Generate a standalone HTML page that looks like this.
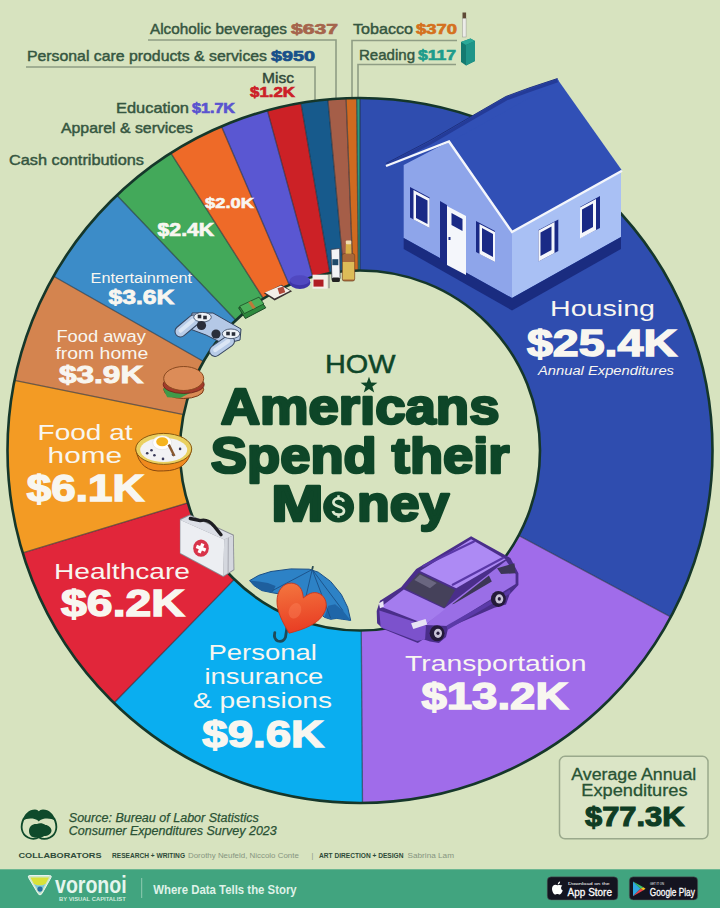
<!DOCTYPE html>
<html><head><meta charset="utf-8">
<style>
html,body{margin:0;padding:0;}
body{width:720px;height:908px;overflow:hidden;background:#d7e3bf;font-family:"Liberation Sans",sans-serif;position:relative;}
svg{position:absolute;left:0;top:0;}
</style></head>
<body>
<svg width="720" height="908" viewBox="0 0 720 908" font-family="'Liberation Sans', sans-serif">
<!-- leader lines -->
<g fill="none" stroke="#8f9d84" stroke-width="1.6">
<polyline points="148,40 336,40 336,100"/>
<polyline points="26,67 315,67 315,100"/>
<polyline points="457,40.5 352,40.5 352,100"/>
<polyline points="456,64.5 358,64.5 358,100"/>
</g>
<!-- donut -->
<g>
<path d="M360.00,98.00 A352.5,352.5 0 0 1 670.72,616.96 L518.67,535.50 A180.0,180.0 0 0 0 360.00,270.50 Z" fill="#2f4daf"/>
<path d="M670.72,616.96 A352.5,352.5 0 0 1 362.49,802.99 L361.27,630.50 A180.0,180.0 0 0 0 518.67,535.50 Z" fill="#a06cea"/>
<path d="M362.49,802.99 A352.5,352.5 0 0 1 113.98,702.95 L234.37,579.41 A180.0,180.0 0 0 0 361.27,630.50 Z" fill="#0aaef0"/>
<path d="M113.98,702.95 A352.5,352.5 0 0 1 22.71,552.92 L187.77,502.80 A180.0,180.0 0 0 0 234.37,579.41 Z" fill="#e1263a"/>
<path d="M22.71,552.92 A352.5,352.5 0 0 1 14.56,380.28 L183.61,414.64 A180.0,180.0 0 0 0 187.77,502.80 Z" fill="#f39b24"/>
<path d="M14.56,380.28 A352.5,352.5 0 0 1 53.61,276.20 L203.55,361.49 A180.0,180.0 0 0 0 183.61,414.64 Z" fill="#d4844f"/>
<path d="M53.61,276.20 A352.5,352.5 0 0 1 116.84,195.29 L235.84,320.18 A180.0,180.0 0 0 0 203.55,361.49 Z" fill="#3c8cc8"/>
<path d="M116.84,195.29 A352.5,352.5 0 0 1 170.87,153.03 L263.42,298.60 A180.0,180.0 0 0 0 235.84,320.18 Z" fill="#43a95a"/>
<path d="M170.87,153.03 A352.5,352.5 0 0 1 221.46,126.37 L289.26,284.98 A180.0,180.0 0 0 0 263.42,298.60 Z" fill="#ee6a28"/>
<path d="M221.46,126.37 A352.5,352.5 0 0 1 267.38,110.39 L312.71,276.82 A180.0,180.0 0 0 0 289.26,284.98 Z" fill="#5a57d2"/>
<path d="M267.38,110.39 A352.5,352.5 0 0 1 300.91,102.99 L329.83,273.05 A180.0,180.0 0 0 0 312.71,276.82 Z" fill="#cc2126"/>
<path d="M300.91,102.99 A352.5,352.5 0 0 1 327.87,99.47 L343.59,271.25 A180.0,180.0 0 0 0 329.83,273.05 Z" fill="#175a8c"/>
<path d="M327.87,99.47 A352.5,352.5 0 0 1 346.06,98.28 L352.88,270.64 A180.0,180.0 0 0 0 343.59,271.25 Z" fill="#a55e48"/>
<path d="M346.06,98.28 A352.5,352.5 0 0 1 356.65,98.02 L358.29,270.51 A180.0,180.0 0 0 0 352.88,270.64 Z" fill="#d06a20"/>
<path d="M356.65,98.02 A352.5,352.5 0 0 1 360.00,98.00 L360.00,270.50 A180.0,180.0 0 0 0 358.29,270.51 Z" fill="#2f9a7e"/>
</g>
<g stroke="#1e2a3a" stroke-width="1.3" stroke-opacity="0.6">
<line x1="360.00" y1="270.50" x2="360.00" y2="98.00"/>
<line x1="518.67" y1="535.50" x2="670.72" y2="616.96"/>
<line x1="361.27" y1="630.50" x2="362.49" y2="802.99"/>
<line x1="234.37" y1="579.41" x2="113.98" y2="702.95"/>
<line x1="187.77" y1="502.80" x2="22.71" y2="552.92"/>
<line x1="183.61" y1="414.64" x2="14.56" y2="380.28"/>
<line x1="203.55" y1="361.49" x2="53.61" y2="276.20"/>
<line x1="235.84" y1="320.18" x2="116.84" y2="195.29"/>
<line x1="263.42" y1="298.60" x2="170.87" y2="153.03"/>
<line x1="289.26" y1="284.98" x2="221.46" y2="126.37"/>
<line x1="312.71" y1="276.82" x2="267.38" y2="110.39"/>
<line x1="329.83" y1="273.05" x2="300.91" y2="102.99"/>
<line x1="343.59" y1="271.25" x2="327.87" y2="99.47"/>
<line x1="352.88" y1="270.64" x2="346.06" y2="98.28"/>
<line x1="358.29" y1="270.51" x2="356.65" y2="98.02"/>
</g>
<circle cx="360.0" cy="450.5" r="352.5" fill="none" stroke="#15372a" stroke-width="2.6"/>
<circle cx="360.0" cy="450.5" r="180.0" fill="none" stroke="#15372a" stroke-width="2.6"/>

<!-- house -->
<g id="house">
<polygon points="403.7,165 449,141.5 512,232 512,298 403.7,238" fill="#8ea5ea"/>
<polygon points="512,232 621,171.5 621,237 512,298" fill="#a9c0f4"/>
<polygon points="403.7,238 512,298 512,310.5 403.7,249" fill="#1a2c80"/>
<polygon points="512,298 621,237 621,249 512,310.5" fill="#1a2c80"/>
<polygon points="449,141 558,80 622,170.5 512,232" fill="#3150b6"/>
<polygon points="386,163.5 430,140.5 473.7,115 505.8,96.5 528.8,88 557.5,78.5 559,81.5 449,142.5 388,167.5" fill="#3150b6"/>
<polyline points="387.5,165.2 431,142.6 474.5,117.2 506.5,98.8 529.5,90.4 557.5,80.8" fill="none" stroke="#243b98" stroke-width="3.2"/>
<polyline points="386,163.5 430,140.5 473.7,115 505.8,96.5 528.8,88 557.5,78.5" fill="none" stroke="#1c2c78" stroke-width="0.9"/>
<polyline points="386,166 449,141.5 512,232 622,170.8" fill="none" stroke="#f4f6fb" stroke-width="2.4" stroke-linejoin="miter"/>
<!-- front wall windows -->
<polygon points="410,187 429.6,197.5 429.6,228 410,217.5" fill="#1a2a86"/>
<polygon points="413.5,190 429.6,198.5 429.6,228 413.5,219.5" fill="#f4f6fb"/>
<polygon points="416,194.5 427.5,200.5 427.5,224 416,218" fill="#1a2a86"/>
<polygon points="440,201 447,205 447,265 440,261" fill="#1a2a86"/>
<polygon points="447,206 466,216 466,275 447,265" fill="#f4f6fb"/>
<polygon points="451.5,213 462.5,219 462.5,231 451.5,225" fill="#1a2a86"/>
<rect x="448.5" y="237" width="2" height="3" fill="#1a2a86"/>
<polygon points="476,221 495,231 495,262 476,252" fill="#1a2a86"/>
<polygon points="479.5,224 495,232 495,262 479.5,254" fill="#f4f6fb"/>
<polygon points="482,228 493,234 493,257 482,251" fill="#1a2a86"/>
<!-- side wall windows -->
<polygon points="538.5,230 558.3,219.5 558.3,251 538.5,261.5" fill="#1a2a86"/>
<polygon points="538.5,230.5 554.5,222 554.5,253 538.5,261.5" fill="#f4f6fb"/>
<polygon points="540.5,232.5 551.5,226.5 551.5,250 540.5,256" fill="#1a2a86"/>
<polygon points="580,207 600,196 600,228 580,238" fill="#1a2a86"/>
<polygon points="580,207.5 596,199 596,230 580,238.5" fill="#f4f6fb"/>
<polygon points="582,209.5 593,203.5 593,227 582,233" fill="#1a2a86"/>
</g>

<g id="icons"><polygon points="249.6,580.6 258.8,575.3 271.0,571.5 290.8,568.9 309.2,569.2 318.3,572.2 330.6,581.4 341.3,594.4 347.7,607.4 350.7,620.4 342.8,619.3 336.7,618.4 330.6,619.3 324.4,617.3 316.8,610.4 309.2,603.5 298.5,598.2 284.7,594.8 272.5,592.8 261.8,590.6 254.2,585.7" fill="#2d82c6" stroke="#1b4f86" stroke-width="1" stroke-linejoin="round"/>
<polygon points="249.6,580.6 254.2,585.7 261.8,590.6 272.5,592.8 275.6,586.0 267.9,582.9 258.8,581.4" fill="#1e5f9e"/>
<polygon points="324.4,617.3 330.6,619.3 336.7,618.4 342.8,619.3 350.7,620.4 342.8,610.4 335.1,604.3 328.3,605.8" fill="#1f66a8"/>
<line x1="312.2" y1="569.5" x2="306.1" y2="595.9" stroke="#1b4f86" stroke-width="0.9"/>
<line x1="312.2" y1="569.5" x2="330.6" y2="618.1" stroke="#1b4f86" stroke-width="0.9"/>
<line x1="312.2" y1="569.5" x2="272.5" y2="590.6" stroke="#1b4f86" stroke-width="0.9"/>
<line x1="312.2" y1="569.5" x2="342.8" y2="610.4" stroke="#1b4f86" stroke-width="0.9"/>
<line x1="312.2" y1="569.5" x2="313.0" y2="566.1" stroke="#2a4a50" stroke-width="1.8"/>
<path d="M287.0,627.2 L285.5,637.2 Q283.2,642.5 277.8,641.0 Q273.3,638.7 274.8,632.6" fill="none" stroke="#1f4a58" stroke-width="2.8" stroke-linecap="round"/>
<defs><linearGradient id="hg" x1="0" y1="0" x2="0.6" y2="1"><stop offset="0" stop-color="#f47a40"/><stop offset="1" stop-color="#e83a22"/></linearGradient></defs>
<g transform="translate(298.5,610) rotate(22)"><path d="M0,25 C-12,16 -25,5 -25,-9 C-25,-21 -13,-27 -5,-20 C-3,-18 -1,-15 0,-13 C1,-15 3,-18 5,-20 C13,-27 25,-21 25,-9 C25,5 12,16 0,25 Z" fill="url(#hg)" stroke="#c8341a" stroke-width="0.8"/><ellipse cx="-3" cy="2" rx="6" ry="8" fill="#ff8a60" opacity="0.35"/></g>
<polygon points="179.9,519.1 189.8,514.4 233.8,534.7 234.4,570.1 223.3,577.1 179.9,553.8" fill="#8a8c94"/>
<polygon points="180.4,520.1 224.2,539.4 223.3,576.0 180.4,553.1" fill="#eceef2"/>
<polygon points="224.2,539.4 233.0,535.4 233.5,569.6 223.3,576.0" fill="#d4d7de"/>
<line x1="228.3" y1="537.5" x2="228.1" y2="573.2" stroke="#9a9ca6" stroke-width="0.8"/>
<polygon points="180.4,520.1 189.8,515.4 233.0,535.4 224.2,539.4" fill="#dcdfe6"/>
<path d="M190.3,518.5 L200.2,520.6 Q207.5,518.5 213.8,525.8 L221.0,534.7" fill="none" stroke="#1e1e22" stroke-width="3.4" stroke-linecap="round" stroke-linejoin="round"/>
<ellipse cx="201.0" cy="548.2" rx="7.8" ry="8.6" fill="#d8344a"/>
<rect x="199.3" y="543.2" width="3.4" height="10" fill="#fff" transform="rotate(22 201.0 548.2)"/>
<rect x="196.0" y="546.5" width="10" height="3.4" fill="#fff" transform="rotate(22 201.0 548.2)"/>
<path d="M135.7,448.9 Q139.7,472.9 163.7,470.9 Q187.7,470.9 191.7,448.9 Z" fill="#f08a1e" stroke="#8a4a10" stroke-width="1"/>
<ellipse cx="163.7" cy="448.9" rx="28" ry="15.5" fill="#ead060" stroke="#8a5a10" stroke-width="1"/>
<ellipse cx="163.7" cy="449.9" rx="23.5" ry="12" fill="#f2f2f4"/>
<ellipse cx="162.2" cy="442.7" rx="9.5" ry="7" fill="#ffffff" stroke="#ddd" stroke-width="0.6"/>
<ellipse cx="162.2" cy="441.7" rx="6" ry="4.5" fill="#f5b41e"/>
<circle cx="147.2" cy="453.2" r="1.3" fill="#3a3a5a"/>
<circle cx="154.4" cy="455.3" r="1.3" fill="#3a3a5a"/>
<circle cx="163.0" cy="458.9" r="1.3" fill="#3a3a5a"/>
<circle cx="173.0" cy="454.6" r="1.3" fill="#3a3a5a"/>
<circle cx="180.1" cy="448.9" r="1.3" fill="#3a3a5a"/>
<circle cx="151.5" cy="450.3" r="1.3" fill="#3a3a5a"/>
<line x1="168.7" y1="444.6" x2="174.4" y2="456.0" stroke="#8a5a30" stroke-width="2.5"/>
<ellipse cx="183.7" cy="389.5" rx="20" ry="9" fill="#d98a55" stroke="#7a3a18" stroke-width="1"/>
<polygon points="163.0,388.7 173.0,385.1 190.2,393.0 180.1,398.0 167.2,397.3" fill="#3e9a48"/>
<ellipse cx="183.7" cy="384.5" rx="20.5" ry="9" fill="#a23a2a" stroke="#6a2016" stroke-width="0.8"/>
<ellipse cx="183.7" cy="378.5" rx="20" ry="12" fill="#dc8c58" stroke="#8a4a20" stroke-width="1"/>
<g stroke="#34445e" stroke-width="1">
<polygon points="192,313 213,313 241,329 240,340 224,344 206,335 190,329" fill="#b4c8e6"/>
<rect x="173" y="320.5" width="28" height="11" rx="5.5" fill="#b8cce8" transform="rotate(-40 187 326)"/>
<rect x="208" y="340.5" width="28" height="11" rx="5.5" fill="#b8cce8" transform="rotate(-35 222 346)"/>
</g>
<rect x="177" y="323.5" width="20" height="4" rx="2" fill="#dbe6f5" transform="rotate(-40 187 326)"/>
<rect x="212" y="343.5" width="20" height="4" rx="2" fill="#dbe6f5" transform="rotate(-35 222 346)"/>
<ellipse cx="202.5" cy="317.2" rx="8.8" ry="4.8" fill="#eef2f8" stroke="#34445e" stroke-width="0.8"/>
<ellipse cx="231" cy="333.8" rx="8.8" ry="4.8" fill="#eef2f8" stroke="#34445e" stroke-width="0.8"/>
<rect x="197.7" y="314.7" width="3.6" height="3.6" fill="#2a2e3a"/>
<rect x="203.2" y="315.7" width="3.6" height="3.6" fill="#2a2e3a"/>
<rect x="226.2" y="331.7" width="3.6" height="3.6" fill="#2a2e3a"/>
<rect x="231.7" y="332.2" width="3.6" height="3.6" fill="#2a2e3a"/>
<circle cx="201.5" cy="325.5" r="4.6" fill="#2a2e3a"/>
<circle cx="216" cy="334" r="4.6" fill="#2a2e3a"/>
<polygon points="238.6,307.8 259.0,298.1 265.8,307.8 245.4,318.5" fill="#2f8a3e" stroke="#1c4a26" stroke-width="1"/>
<polygon points="239.6,306.2 259.0,297.1 263.9,303.9 244.4,313.6" fill="#4cb05a" stroke="#1c4a26" stroke-width="0.8"/>
<polygon points="248.3,302.3 251.2,301.0 255.7,307.8 252.8,309.1" fill="#c0783a"/>
<polygon points="263.9,293.2 281.4,284.8 292.1,291.2 274.6,300.4" fill="#3a3030"/>
<polygon points="264.9,292.6 281.0,285.4 290.1,290.7 274.6,298.4" fill="#f3efe8"/>
<polygon points="277.5,288.3 283.3,286.4 285.3,292.2 279.4,294.2" fill="#b04a3a"/>
<ellipse cx="299.9" cy="282.5" rx="10.5" ry="6.5" fill="#3e35a8"/>
<ellipse cx="299.9" cy="280.2" rx="10" ry="5" fill="#5048c0"/>
<rect x="312.5" y="274.7" width="15" height="14" fill="#f3efe8"/>
<rect x="313.5" y="279.6" width="10" height="7" fill="#b01e24"/>
<line x1="329.0" y1="274.7" x2="329.0" y2="288.3" stroke="#8a8a8a" stroke-width="1.2"/>
<polygon points="331.0,249.4 339.7,248.5 340.1,278.6 331.9,279.6" fill="#f4f4f6" stroke="#3a3a4a" stroke-width="0.8"/>
<rect x="332.3" y="259.2" width="6" height="6" fill="#1f4a6a"/>
<rect x="331.9" y="277.6" width="8" height="4.5" rx="1.5" fill="#222"/>
<rect x="342.3" y="253.5" width="12.4" height="27.6" rx="2.2" fill="#a8683a" stroke="#6a3e1c" stroke-width="0.6"/>
<rect x="342.8" y="262" width="11.4" height="17.5" fill="#dcbc58"/>
<path d="M345.6,253.8 L345.8,244 L351.3,244 L351.5,253.8 Z" fill="#d8b048"/>
<rect x="345.8" y="240.6" width="5.5" height="3.6" rx="1" fill="#f0dcb0"/></g>
<g id="car"><polygon points="376.7,611.1 380.0,600.7 401.1,587.3 416.2,568.9 471.1,536.2 510.4,558.0 518.4,573.3 518.4,585.1 509.6,594.4 506.0,604.4 494.4,607.8 448.2,627.8 446.0,637.1 438.9,642.9 430.0,641.6 423.3,639.3 417.8,642.9 383.3,628.9 377.1,623.3" fill="#4a2e8a"/>
<polygon points="444.4,608.2 506.0,560.7 515.6,574.0 515.6,584.0 447.8,626.0 425.6,625.1" fill="#9a6ee6"/>
<polygon points="379.3,610.4 426.0,625.6 425.1,639.3 417.1,641.1 380.7,627.3" fill="#7c52cc"/>
<polygon points="381.1,606.7 403.8,589.6 445.1,609.1 426.0,624.4" fill="#a47cee"/>
<polygon points="420.0,571.1 471.1,539.3 505.6,559.3 456.2,588.2" fill="#ad8af4"/>
<polygon points="405.1,588.2 418.9,572.7 455.1,590.0 444.7,607.8" fill="#45415a"/>
<polygon points="414.4,580.0 420.0,574.4 436.7,582.9 430.0,588.2" fill="#6a6680"/>
<polygon points="451.8,604.4 488.9,575.6 491.8,581.6 454.9,603.3" fill="#3c3656"/>
<polygon points="497.1,568.2 514.4,563.3 515.6,573.3 501.1,574.0" fill="#3c3656"/>
<polygon points="446.7,625.6 510.0,589.6 510.4,593.3 447.3,630.0" fill="#5b3aa8"/>
<line x1="423.3" y1="566.0" x2="474.0" y2="541.6" stroke="#5a38a8" stroke-width="2.2" stroke-linecap="round"/>
<line x1="452.7" y1="584.7" x2="502.9" y2="558.0" stroke="#5a38a8" stroke-width="2.2" stroke-linecap="round"/>
<ellipse cx="437.1" cy="633.3" rx="7.5" ry="8" fill="#241a3a"/>
<ellipse cx="438.0" cy="633.3" rx="4" ry="4.6" fill="#c9c4d6"/>
<ellipse cx="438.0" cy="633.3" rx="1.6" ry="1.8" fill="#241a3a"/>
<ellipse cx="498.4" cy="598.9" rx="7.5" ry="8" fill="#241a3a"/>
<ellipse cx="499.3" cy="598.9" rx="4" ry="4.6" fill="#c9c4d6"/>
<ellipse cx="499.3" cy="598.9" rx="1.6" ry="1.8" fill="#241a3a"/>
<polygon points="411.1,623.3 425.6,618.9 427.3,624.4 413.3,628.9" fill="#e8e4f4"/>
<polygon points="378.9,603.3 383.3,600.7 383.8,606.7 380.0,608.2" fill="#e8e4f4"/></g>
<g id="tob">
<rect x="462.5" y="12.5" width="3.6" height="6" fill="#5e4a36"/>
<rect x="462.5" y="18.5" width="3.6" height="18.5" fill="#ecece8" stroke="#9a9a92" stroke-width="0.5"/>
<polygon points="461,42 470.5,38.5 475,41 475,61 466,65.5 461,62" fill="#147a70"/>
<polygon points="461,42 470.5,38.5 475,41 466,45" fill="#2aa898"/>
<polygon points="466,45 475,41 475,61 466,65.5" fill="#1f9488"/>
</g>
<!-- top labels -->
<g font-size="15" fill="#355640" stroke="#355640" stroke-width="0.45">
<text x="150" y="34" textLength="137" lengthAdjust="spacingAndGlyphs">Alcoholic beverages</text>
<text x="291" y="34" font-weight="bold" stroke="#a5654c" stroke-width="0.7" fill="#a5654c" textLength="47" lengthAdjust="spacingAndGlyphs">$637</text>
<text x="353" y="34" textLength="60" lengthAdjust="spacingAndGlyphs">Tobacco</text>
<text x="416" y="34" font-weight="bold" stroke="#d4711e" stroke-width="0.7" fill="#d4711e" textLength="41" lengthAdjust="spacingAndGlyphs">$370</text>
<text x="27" y="61" textLength="240" lengthAdjust="spacingAndGlyphs">Personal care products &amp; services</text>
<text x="271" y="61" font-weight="bold" stroke="#18508a" stroke-width="0.7" fill="#18508a" textLength="44" lengthAdjust="spacingAndGlyphs">$950</text>
<text x="359" y="60" textLength="56" lengthAdjust="spacingAndGlyphs">Reading</text>
<text x="418" y="60" font-weight="bold" stroke="#1e9c8c" stroke-width="0.7" fill="#1e9c8c" textLength="38" lengthAdjust="spacingAndGlyphs">$117</text>
<text x="262" y="83" fill="#2e3a36" textLength="32" lengthAdjust="spacingAndGlyphs">Misc</text>
<text x="250" y="97" font-weight="bold" stroke="#cc2128" stroke-width="0.7" fill="#cc2128" textLength="45" lengthAdjust="spacingAndGlyphs">$1.2K</text>
<text x="116" y="113" textLength="73" lengthAdjust="spacingAndGlyphs">Education</text>
<text x="192" y="113" font-weight="bold" stroke="#5a54cf" stroke-width="0.7" fill="#5a54cf" textLength="43" lengthAdjust="spacingAndGlyphs">$1.7K</text>
<text x="61" y="133" textLength="132" lengthAdjust="spacingAndGlyphs">Apparel &amp; services</text>
<text x="9" y="165" textLength="135" lengthAdjust="spacingAndGlyphs">Cash contributions</text>
</g>

<!-- segment labels -->
<g fill="#f8f6f0" stroke="#f8f6f0" stroke-width="0" text-anchor="start">
<text x="550" y="316.4" font-size="22" textLength="105" lengthAdjust="spacingAndGlyphs">Housing</text>
<text x="527" y="355.6" font-size="37.4" font-weight="bold" stroke-width="1.44" textLength="150" lengthAdjust="spacingAndGlyphs">$25.4K</text>
<text x="538" y="374.5" font-size="12" font-style="italic" textLength="136" lengthAdjust="spacingAndGlyphs">Annual Expenditures</text>

<text x="405" y="671" font-size="22" textLength="181.5" lengthAdjust="spacingAndGlyphs">Transportation</text>
<text x="421.4" y="709.4" font-size="37.4" font-weight="bold" stroke-width="1.44" textLength="147" lengthAdjust="spacingAndGlyphs">$13.2K</text>

<text x="208.4" y="660.2" font-size="22" textLength="108.5" lengthAdjust="spacingAndGlyphs">Personal</text>
<text x="204.4" y="684.3" font-size="22" textLength="119" lengthAdjust="spacingAndGlyphs">insurance</text>
<text x="193" y="708.3" font-size="22" textLength="139" lengthAdjust="spacingAndGlyphs">&amp; pensions</text>
<text x="202.3" y="747.2" font-size="36.4" font-weight="bold" stroke-width="1.4" textLength="121.6" lengthAdjust="spacingAndGlyphs">$9.6K</text>

<text x="54" y="578.6" font-size="22" textLength="136" lengthAdjust="spacingAndGlyphs">Healthcare</text>
<text x="61.1" y="615.5" font-size="36.4" font-weight="bold" stroke-width="1.4" textLength="123.7" lengthAdjust="spacingAndGlyphs">$6.2K</text>

<text x="37.6" y="439.6" font-size="22" textLength="95" lengthAdjust="spacingAndGlyphs">Food at</text>
<text x="47.6" y="462.9" font-size="22" textLength="74.5" lengthAdjust="spacingAndGlyphs">home</text>
<text x="26.8" y="501.4" font-size="36.4" font-weight="bold" stroke-width="1.4" textLength="117.6" lengthAdjust="spacingAndGlyphs">$6.1K</text>

<text x="56.4" y="342.2" font-size="16" textLength="89.5" lengthAdjust="spacingAndGlyphs">Food away</text>
<text x="55.4" y="358.9" font-size="16" textLength="92.8" lengthAdjust="spacingAndGlyphs">from home</text>
<text x="58.9" y="383.3" font-size="24" font-weight="bold" stroke-width="0.96" textLength="84.4" lengthAdjust="spacingAndGlyphs">$3.9K</text>

<text x="90.6" y="283.3" font-size="14" textLength="101.5" lengthAdjust="spacingAndGlyphs">Entertainment</text>
<text x="108.4" y="304" font-size="20.5" font-weight="bold" stroke-width="0.82" textLength="66" lengthAdjust="spacingAndGlyphs">$3.6K</text>

<text x="157.5" y="235.8" font-size="18" font-weight="bold" stroke-width="0.72" textLength="56.7" lengthAdjust="spacingAndGlyphs">$2.4K</text>
<text x="205" y="207.5" font-size="15.5" font-weight="bold" stroke-width="0.62" textLength="49" lengthAdjust="spacingAndGlyphs">$2.0K</text>
</g>

<!-- title -->
<g fill="#0e4628">
<text x="325" y="373" font-size="26" stroke="#0e4628" stroke-width="0.5" textLength="70.5" lengthAdjust="spacingAndGlyphs">HOW</text>
<g stroke="#0e4628" stroke-width="2.6" stroke-linejoin="round">
<text x="220.7" y="424" font-size="50" font-weight="bold" textLength="278.8" lengthAdjust="spacingAndGlyphs">Amerıcans</text>
<text x="210.8" y="472.5" font-size="50" font-weight="bold" textLength="298.7" lengthAdjust="spacingAndGlyphs">Spend their</text>
<text x="271.3" y="520.7" font-size="50" font-weight="bold" textLength="52.3" lengthAdjust="spacingAndGlyphs">M</text>
<text x="357" y="520.7" font-size="50" font-weight="bold" textLength="92.3" lengthAdjust="spacingAndGlyphs">ney</text>
</g>
<circle cx="338.6" cy="507" r="15.5"/>
<g fill="none" stroke="#dcead0" stroke-width="2.7"><path d="M343.6,501.8 C343.2,499.4 341,498.4 338.5,498.4 C335.6,498.4 333.4,500 333.4,502.3 C333.4,505 336,505.8 338.5,506.5 C341.5,507.3 344,508.3 344,511 C344,513.5 341.5,514.7 338.5,514.7 C335.8,514.7 333.4,513.7 332.9,511.1"/><path d="M338.5,495.2 V498.6 M338.5,514.5 V517.8" stroke-width="2.5"/></g>
<polygon points="369.0,376.7 371.1,382.6 377.4,382.8 372.4,386.6 374.2,392.6 369.0,389.1 363.8,392.6 365.6,386.6 360.6,382.8 366.9,382.6"/>
</g>

<!-- avg box -->
<rect x="559.5" y="756.3" width="148.5" height="82.5" rx="5.5" fill="#dbe5c6" stroke="#9aa98c" stroke-width="1.5"/>
<g fill="#285334" stroke="#285334" stroke-width="0.3" font-size="16">
<text x="571.3" y="780" textLength="125" lengthAdjust="spacingAndGlyphs">Average Annual</text>
<text x="581.3" y="796.3" textLength="106.2" lengthAdjust="spacingAndGlyphs">Expenditures</text>
<text x="585" y="826.3" font-size="27.5" font-weight="bold" fill="#0f3d24" stroke="#0f3d24" stroke-width="1.1" textLength="99.5" lengthAdjust="spacingAndGlyphs">$77.3K</text>
</g>

<!-- source -->
<g>
<path d="M24,818 C20,826 21,834 28,837.5 C32,839.5 36,839 38.8,837.2 C41.5,839 46,839.5 50,837.5 C57,834 58,826 54,818" fill="none" stroke="#0f4a2b" stroke-width="1.8"/>
<path d="M22.5,821 C24,814 29,809.5 35,809.5 C37,809.5 38,810.5 38.8,811.2 C39.5,810.5 41,809.5 43,809.5 C49,809.5 54,814 55.5,821 C52,818.5 47,818 43,819 C41,819.5 39.5,820.5 38.8,821.6 C38,820.5 36.5,819.5 34.5,819 C30.5,818 26,818.5 22.5,821 Z" fill="#0f4a2b"/>
<path d="M29,831 C29,826 33,823.5 37,824 C39,823 43,823 45.5,825 C48,825 51.5,827.5 51.5,830.5 C51.5,834 48,836 44,836 C42,837.5 40,838 38.8,837 C36,838.5 32,837.5 30.5,835.5 C29.5,834.3 29,832.8 29,831 Z" fill="#0f4a2b"/>
<text x="68.8" y="821.7" font-size="12.5" font-style="italic" fill="#2a5234" stroke="#2a5234" stroke-width="0.25" textLength="190" lengthAdjust="spacingAndGlyphs">Source: Bureau of Labor Statistics</text>
<text x="68.8" y="835" font-size="12.5" font-style="italic" fill="#2a5234" stroke="#2a5234" stroke-width="0.25" textLength="208" lengthAdjust="spacingAndGlyphs">Consumer Expenditures Survey 2023</text>
<text x="18.5" y="858" font-size="8" font-weight="bold" fill="#2d4a38" textLength="83" lengthAdjust="spacingAndGlyphs">COLLABORATORS</text>
<text x="112" y="858" font-size="6.5" font-weight="bold" fill="#2d4a38" textLength="73" lengthAdjust="spacingAndGlyphs">RESEARCH + WRITING</text>
<text x="188" y="858" font-size="7" fill="#869580" textLength="110.8" lengthAdjust="spacingAndGlyphs">Dorothy Neufeld, Niccolo Conte</text>
<text x="311.5" y="858" font-size="7" fill="#869580">|</text>
<text x="319" y="858" font-size="6.8" font-weight="bold" fill="#2d4a38" textLength="84.5" lengthAdjust="spacingAndGlyphs">ART DIRECTION + DESIGN</text>
<text x="407.5" y="858" font-size="7" fill="#869580" textLength="46.5" lengthAdjust="spacingAndGlyphs">Sabrina Lam</text>
</g>

<!-- footer -->
<rect x="0" y="869.3" width="720" height="38.7" fill="#41a47f"/>
<text x="55" y="893" font-size="24" font-weight="bold" fill="#e6f6ee" textLength="71.7" lengthAdjust="spacingAndGlyphs">voronoi</text>
<path d="M28.5,877.5 Q27.5,875.5 30,875.5 L49.5,875.5 Q52,875.5 51,877.5 L42,893.5 Q40,896.5 38,893.5 Z" fill="#cfe8c8" stroke="#e8f4f0" stroke-width="1"/>
<path d="M30.5,877.5 L49,877.5 L45.5,884 Q40,887 34,884 Z" fill="#d8e23a"/>
<path d="M34,884 Q40,887 45.5,884 L41,892 Q40,893.5 39,892 Z" fill="#7ac8d8"/>
<circle cx="40" cy="889" r="2.6" fill="#2a6fa0"/>
<text x="59" y="901.3" font-size="4.5" font-weight="bold" fill="#cfeadc" textLength="66.8" lengthAdjust="spacingAndGlyphs">BY VISUAL CAPITALIST</text>
<line x1="141.7" y1="878" x2="141.7" y2="898" stroke="#8fcab0" stroke-width="1"/>
<text x="153.3" y="893.5" font-size="13" font-weight="bold" fill="#dff2e8" textLength="143.4" lengthAdjust="spacingAndGlyphs">Where Data Tells the Story</text>
<rect x="547.2" y="876.8" width="70.7" height="23.2" rx="4" fill="#141420" stroke="#5a6a66" stroke-width="0.5"/>
<rect x="629.3" y="876.8" width="68.4" height="23.2" rx="4" fill="#141420" stroke="#5a6a66" stroke-width="0.5"/>
<path d="M557.8,885.3 C559.5,884.6 561,885 562.3,885.6 C560.5,886.8 560.6,889.6 562.7,890.6 C562.2,892.2 561,894.6 559.7,894.6 C558.7,894.6 558.4,894 557.5,894 C556.5,894 556,894.6 555.2,894.6 C553.8,894.6 552,891.4 552,888.8 C552,886.2 553.8,884.8 555.4,884.8 C556.3,884.8 557,885.3 557.8,885.3 Z M557.8,884.4 C557.6,882.9 558.8,881.6 560.1,881.4 C560.3,882.9 559,884.3 557.8,884.4 Z" fill="#fff"/>
<text x="567.9" y="884.6" font-size="4" fill="#fff" textLength="41.8" lengthAdjust="spacingAndGlyphs">Download on the</text>
<text x="567.6" y="895.6" font-size="11.5" fill="#fff" stroke="#fff" stroke-width="0.3" textLength="44.4" lengthAdjust="spacingAndGlyphs">App Store</text>
<path d="M633,881.5 L640.5,888.8 L633,896.3 Z" fill="#2fa8e0"/>
<path d="M633,881.5 L643.5,887.3 L640.5,888.8 Z" fill="#3cc26a"/>
<path d="M633,896.3 L643.5,890.3 L640.5,888.8 Z" fill="#e8424a"/>
<path d="M643.5,887.3 L645.5,888.8 L643.5,890.3 L640.5,888.8 Z" fill="#f8c020"/>
<text x="650" y="884.6" font-size="4" fill="#fff" textLength="14" lengthAdjust="spacingAndGlyphs">GET IT ON</text>
<text x="649.8" y="895.6" font-size="11.5" fill="#fff" stroke="#fff" stroke-width="0.3" textLength="45" lengthAdjust="spacingAndGlyphs">Google Play</text>
</svg>
</body></html>
